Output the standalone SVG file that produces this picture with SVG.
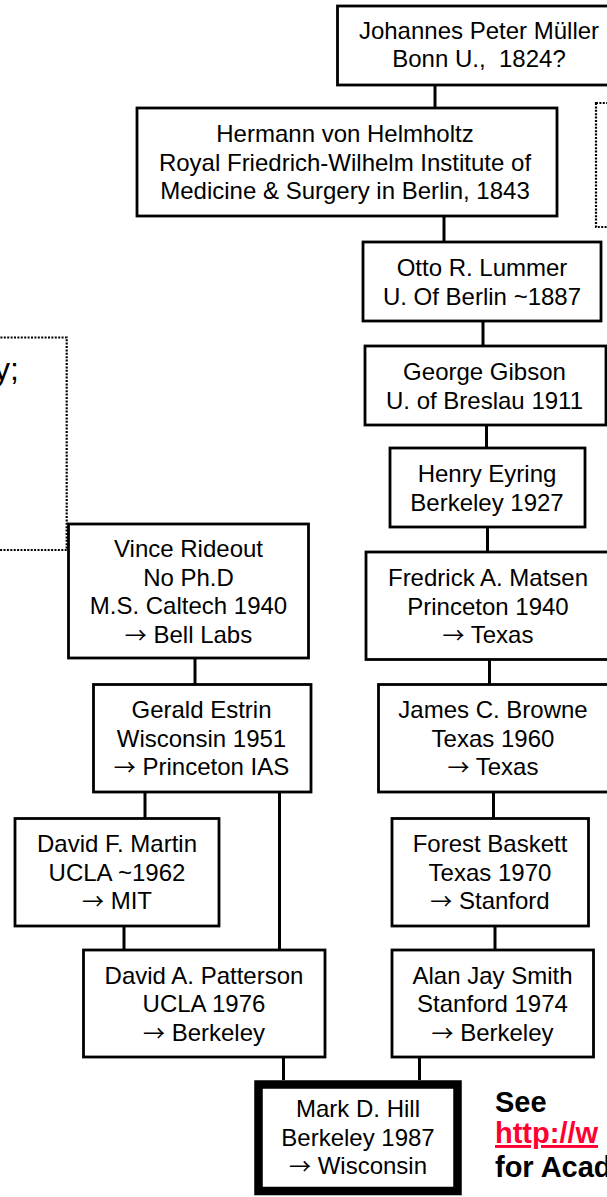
<svg xmlns="http://www.w3.org/2000/svg" width="607" height="1197" viewBox="0 0 607 1197">
<style>
.box{fill:#fff;stroke:#000;stroke-width:2.8}
.hill{fill:#fff;stroke:#000;stroke-width:8.5}
.note{fill:none;stroke:#000;stroke-width:2.2;stroke-dasharray:2 1.4}
.t{font-family:"Liberation Sans",Arial,sans-serif;font-size:24px;fill:#000;text-anchor:middle;white-space:pre}
.a{font-family:"Noto Sans CJK JP","DejaVu Sans",sans-serif;font-size:22px}
.c{stroke:#000;stroke-width:3;fill:none}
.b{font-family:"Liberation Sans",Arial,sans-serif;font-size:29px;font-weight:bold;fill:#000}
.link{fill:#FF0033;text-decoration:underline}
</style>
<rect width="607" height="1197" fill="#fff"/>
<g id="notes">
<rect class="note" x="-20" y="337.5" width="86.7" height="212.5"/>
<text x="19" y="380" style="font-family:'Liberation Sans',Arial,sans-serif;font-size:32px;text-anchor:end">y;</text>
<rect class="note" x="596" y="103" width="30" height="124"/>
</g>
<g id="connectors">
<line class="c" x1="435" y1="85" x2="435" y2="108"/>
<line class="c" x1="444" y1="216" x2="444" y2="242"/>
<line class="c" x1="483" y1="321" x2="483" y2="346"/>
<line class="c" x1="486.5" y1="425" x2="486.5" y2="448"/>
<line class="c" x1="487.5" y1="527" x2="487.5" y2="552"/>
<line class="c" x1="489.5" y1="659" x2="489.5" y2="684"/>
<line class="c" x1="493.5" y1="792" x2="493.5" y2="818"/>
<line class="c" x1="495" y1="926" x2="495" y2="950"/>
<line class="c" x1="419.5" y1="1057" x2="419.5" y2="1080"/>
<line class="c" x1="195" y1="658" x2="195" y2="684"/>
<line class="c" x1="145" y1="792" x2="145" y2="818"/>
<line class="c" x1="279.5" y1="792" x2="279.5" y2="950"/>
<line class="c" x1="124" y1="926" x2="124" y2="950"/>
<line class="c" x1="283.5" y1="1057" x2="283.5" y2="1080"/>
</g>
<g id="muller">
<rect class="box" x="337.5" y="6" width="284" height="79"/>
<text class="t" x="479" y="38.5">Johannes Peter Müller</text>
<text class="t" x="479" y="67">Bonn U.,  1824?</text>
</g>
<g id="helmholtz">
<rect class="box" x="137" y="108" width="420" height="108"/>
<text class="t" x="345" y="142">Hermann von Helmholtz</text>
<text class="t" x="345" y="170.5">Royal Friedrich-Wilhelm Institute of</text>
<text class="t" x="345" y="199">Medicine &amp; Surgery in Berlin, 1843</text>
</g>
<g id="lummer">
<rect class="box" x="363" y="242" width="238" height="79"/>
<text class="t" x="482" y="276">Otto R. Lummer</text>
<text class="t" x="482" y="304.5">U. Of Berlin ~1887</text>
</g>
<g id="gibson">
<rect class="box" x="365" y="346" width="241" height="79"/>
<text class="t" x="484.5" y="380">George Gibson</text>
<text class="t" x="484.5" y="408.5">U. of Breslau 1911</text>
</g>
<g id="eyring">
<rect class="box" x="390" y="448" width="195" height="79"/>
<text class="t" x="487" y="482">Henry Eyring</text>
<text class="t" x="487" y="510.5">Berkeley 1927</text>
</g>
<g id="matsen">
<rect class="box" x="366" y="552" width="244" height="107.5"/>
<text class="t" x="488" y="586">Fredrick A. Matsen</text>
<text class="t" x="488" y="614.5">Princeton 1940</text>
<text class="t" x="488" y="643"><tspan class="a">→</tspan> Texas</text>
</g>
<g id="browne">
<rect class="box" x="378.5" y="684.5" width="230" height="107.5"/>
<text class="t" x="493" y="718">James C. Browne</text>
<text class="t" x="493" y="746.5">Texas 1960</text>
<text class="t" x="493" y="775"><tspan class="a">→</tspan> Texas</text>
</g>
<g id="baskett">
<rect class="box" x="392" y="818.5" width="196.5" height="107.5"/>
<text class="t" x="490" y="852">Forest Baskett</text>
<text class="t" x="490" y="880.5">Texas 1970</text>
<text class="t" x="490" y="909"><tspan class="a">→</tspan> Stanford</text>
</g>
<g id="smith">
<rect class="box" x="392" y="950" width="201.5" height="107"/>
<text class="t" x="492.5" y="983.5">Alan Jay Smith</text>
<text class="t" x="492.5" y="1012">Stanford 1974</text>
<text class="t" x="492.5" y="1040.5"><tspan class="a">→</tspan> Berkeley</text>
</g>
<g id="rideout">
<rect class="box" x="68.5" y="524" width="240" height="134"/>
<text class="t" x="188.5" y="557">Vince Rideout</text>
<text class="t" x="188.5" y="585.5">No Ph.D</text>
<text class="t" x="188.5" y="614">M.S. Caltech 1940</text>
<text class="t" x="188.5" y="642.5"><tspan class="a">→</tspan> Bell Labs</text>
</g>
<g id="estrin">
<rect class="box" x="93.5" y="684.5" width="217.5" height="107.5"/>
<text class="t" x="201.5" y="718">Gerald Estrin</text>
<text class="t" x="201.5" y="746.5">Wisconsin 1951</text>
<text class="t" x="201.5" y="775"><tspan class="a">→</tspan> Princeton IAS</text>
</g>
<g id="martin">
<rect class="box" x="15" y="818.5" width="204" height="107.5"/>
<text class="t" x="117" y="852">David F. Martin</text>
<text class="t" x="117" y="880.5">UCLA ~1962</text>
<text class="t" x="117" y="909"><tspan class="a">→</tspan> MIT</text>
</g>
<g id="patterson">
<rect class="box" x="83.5" y="950" width="241.5" height="107"/>
<text class="t" x="204" y="983.5">David A. Patterson</text>
<text class="t" x="204" y="1012">UCLA 1976</text>
<text class="t" x="204" y="1040.5"><tspan class="a">→</tspan> Berkeley</text>
</g>
<g id="hill">
<rect class="hill" x="258.5" y="1084.5" width="199" height="106.5"/>
<text class="t" x="358" y="1117">Mark D. Hill</text>
<text class="t" x="358" y="1145.5">Berkeley 1987</text>
<text class="t" x="358" y="1174"><tspan class="a">→</tspan> Wisconsin</text>
</g>
<g id="see-note">
<text class="b" x="495" y="1112">See</text>
<text class="b link" x="495" y="1143">http://w</text>
<text class="b" x="495" y="1177">for Acad</text>
</g>
</svg>
